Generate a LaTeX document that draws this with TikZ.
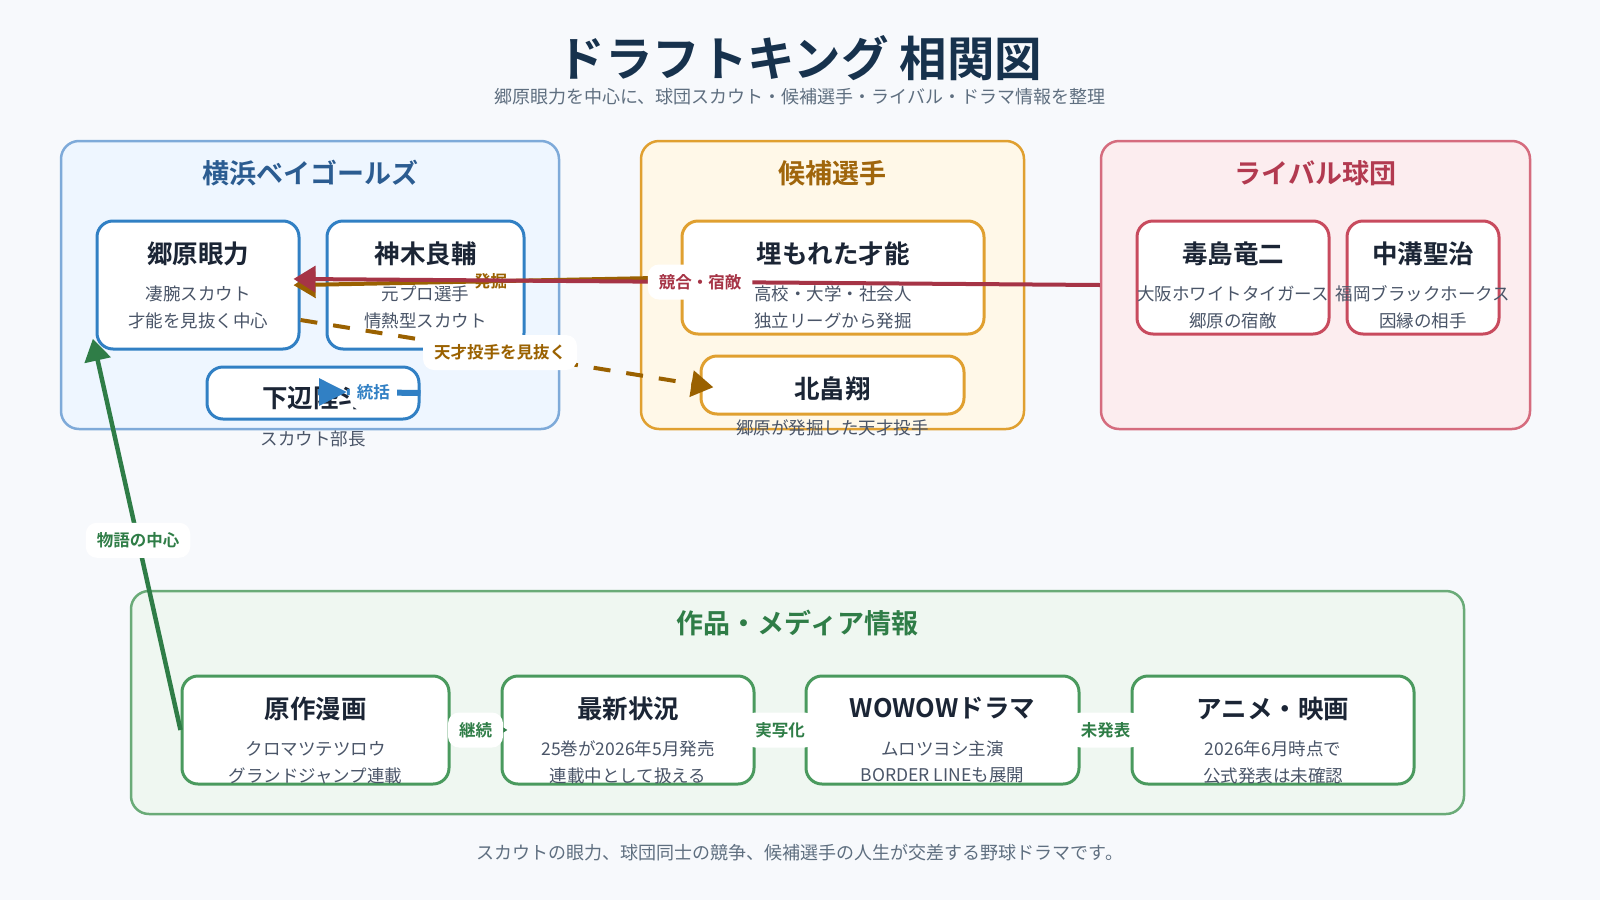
\documentclass[tikz,border=0pt]{standalone}
\usepackage{fontspec}
\setmainfont{Noto Sans CJK JP}[BoldFont={Noto Sans CJK JP Bold}]
\usepackage{tikz}
\usetikzlibrary{arrows.meta,positioning}
\definecolor{pagebg}{HTML}{F7F9FC}
\definecolor{headink}{HTML}{17324D}
\definecolor{noteink}{HTML}{5F6F80}
\definecolor{ink}{HTML}{1B2535}
\definecolor{subink}{HTML}{4A5568}
\definecolor{yokofill}{HTML}{EEF6FF}
\definecolor{yokoedge}{HTML}{7EAAD9}
\definecolor{yokotext}{HTML}{2B5C91}
\definecolor{yokocard}{HTML}{3180C4}
\definecolor{kouhofill}{HTML}{FFF8E8}
\definecolor{kouhoedge}{HTML}{E0A030}
\definecolor{kouhotext}{HTML}{A0660C}
\definecolor{rivalfill}{HTML}{FCEDEF}
\definecolor{rivaledge}{HTML}{D56C7E}
\definecolor{rivaltext}{HTML}{B23A50}
\definecolor{rivalcard}{HTML}{C84B5E}
\definecolor{rivalline}{HTML}{A63446}
\definecolor{mediafill}{HTML}{EFF7F1}
\definecolor{mediaedge}{HTML}{6AAB78}
\definecolor{mediatext}{HTML}{2F7D47}
\definecolor{mediacard}{HTML}{4A9A5E}
\definecolor{findcol}{HTML}{9A6100}
\tikzset{
  grp/.style       = {draw, line width=2.5pt, rounded corners=18pt, inner sep=0pt},
  grptitle/.style  = {font=\bfseries\fontsize{27}{30}\selectfont, inner sep=0pt, yshift=-2pt},
  card/.style      = {draw, fill=white, line width=3pt, rounded corners=16pt, inner sep=0pt},
  cardtitle/.style = {font=\bfseries\fontsize{25.5}{30}\selectfont, text=ink, inner sep=0pt, yshift=-2pt},
  cardline/.style  = {font=\fontsize{17.5}{20}\selectfont, text=subink, inner sep=0pt, yshift=-2pt},
  tag/.style       = {fill=white, rounded corners=11pt, inner xsep=11pt, inner ysep=0pt,
                      minimum height=35pt, font=\bfseries\fontsize{16.5}{18}\selectfont},
  link/.style      = {line width=4pt, -{Triangle[length=22pt,width=26pt]}, shorten >=-7pt},
}
\begin{document}
\begin{tikzpicture}[x=1pt,y=-1pt]
\fill[pagebg] (0,0) rectangle (1600,900);
\useasboundingbox (0,0) rectangle (1600,900);
\node[font=\bfseries\fontsize{47.5}{52}\selectfont, text=headink, inner sep=0pt] (title) at (800,58) {ドラフトキング 相関図};
\node[font=\fontsize{18}{22}\selectfont, text=noteink, inner sep=0pt] (subtitle) at (800,97) {郷原眼力を中心に、球団スカウト・候補選手・ライバル・ドラマ情報を整理};

\node[grp, draw=yokoedge, fill=yokofill, minimum width=498pt, minimum height=288pt] (yokohama) at (310,285) {};
\node[grptitle, text=yokotext] at ([yshift=-31pt]yokohama.north) {横浜ベイゴールズ};
\node[grp, draw=kouhoedge, fill=kouhofill, minimum width=383pt, minimum height=288pt] (kouho) at (832.5,285) {};
\node[grptitle, text=kouhotext] at ([yshift=-31pt]kouho.north) {候補選手};
\node[grp, draw=rivaledge, fill=rivalfill, minimum width=429pt, minimum height=288pt] (rival) at (1315.5,285) {};
\node[grptitle, text=rivaltext] at ([yshift=-31pt]rival.north) {ライバル球団};
\node[grp, draw=mediaedge, fill=mediafill, minimum width=1333pt, minimum height=223pt] (media) at (797.5,702.5) {};
\node[grptitle, text=mediatext] at ([yshift=-31pt]media.north) {作品・メディア情報};

\node[card, draw=yokocard, minimum width=202pt, minimum height=128pt] (goro) at (198,285) {};
\node[cardtitle] at ([yshift=-32pt]goro.north) {郷原眼力};
\node[cardline] at ([yshift=-72pt]goro.north) {凄腕スカウト};
\node[cardline] at ([yshift=-99pt]goro.north) {才能を見抜く中心};
\node[card, draw=yokocard, minimum width=197pt, minimum height=128pt] (kamiki) at (425.5,285) {};
\node[cardtitle] at ([yshift=-32pt]kamiki.north) {神木良輔};
\node[cardline] at ([yshift=-72pt]kamiki.north) {元プロ選手};
\node[cardline] at ([yshift=-99pt]kamiki.north) {情熱型スカウト};
\node[card, draw=yokocard, minimum width=212pt, minimum height=52pt] (shimobe) at (313,393) {};
\node[cardtitle] at ([yshift=-30pt]shimobe.north) {下辺陸斗};
\node[cardline] at ([yshift=-71pt]shimobe.north) {スカウト部長};

\node[card, draw=kouhoedge, minimum width=302pt, minimum height=113pt] (umoreta) at (833,277.5) {};
\node[cardtitle] at ([yshift=-32pt]umoreta.north) {埋もれた才能};
\node[cardline] at ([yshift=-72pt]umoreta.north) {高校・大学・社会人};
\node[cardline] at ([yshift=-99pt]umoreta.north) {独立リーグから発掘};
\node[card, draw=kouhoedge, minimum width=263pt, minimum height=58pt] (kitabatake) at (832.5,385) {};
\node[cardtitle] at ([yshift=-32pt]kitabatake.north) {北畠翔};
\node[cardline] at ([yshift=-71pt]kitabatake.north) {郷原が発掘した天才投手};

\node[card, draw=rivalcard, minimum width=192pt, minimum height=113pt] (busujima) at (1233,277.5) {};
\node[cardtitle] at ([yshift=-32pt]busujima.north) {毒島竜二};
\node[cardline] at ([yshift=-72pt]busujima.north) {大阪ホワイトタイガース};
\node[cardline] at ([yshift=-99pt]busujima.north) {郷原の宿敵};
\node[card, draw=rivalcard, minimum width=152pt, minimum height=113pt] (nakamizo) at (1423,277.5) {};
\node[cardtitle] at ([yshift=-32pt]nakamizo.north) {中溝聖治};
\node[cardline] at ([yshift=-72pt]nakamizo.north) {福岡ブラックホークス};
\node[cardline] at ([yshift=-99pt]nakamizo.north) {因縁の相手};

\node[card, draw=mediacard, minimum width=267pt, minimum height=108pt] (gensaku) at (315.5,730) {};
\node[cardtitle] at ([yshift=-32pt]gensaku.north) {原作漫画};
\node[cardline] at ([yshift=-72pt]gensaku.north) {クロマツテツロウ};
\node[cardline] at ([yshift=-99pt]gensaku.north) {グランドジャンプ連載};
\node[card, draw=mediacard, minimum width=252pt, minimum height=108pt] (saishin) at (628,730) {};
\node[cardtitle] at ([yshift=-32pt]saishin.north) {最新状況};
\node[cardline] at ([yshift=-72pt]saishin.north) {25巻が2026年5月発売};
\node[cardline] at ([yshift=-99pt]saishin.north) {連載中として扱える};
\node[card, draw=mediacard, minimum width=273pt, minimum height=108pt] (wowow) at (942.5,730) {};
\node[cardtitle] at ([yshift=-32pt]wowow.north) {WOWOWドラマ};
\node[cardline] at ([yshift=-72pt]wowow.north) {ムロツヨシ主演};
\node[cardline] at ([yshift=-99pt]wowow.north) {BORDER LINEも展開};
\node[card, draw=mediacard, minimum width=282pt, minimum height=108pt] (anime) at (1273,730) {};
\node[cardtitle] at ([yshift=-32pt]anime.north) {アニメ・映画};
\node[cardline] at ([yshift=-72pt]anime.north) {2026年6月時点で};
\node[cardline] at ([yshift=-99pt]anime.north) {公式発表は未確認};

\draw[link, draw=findcol] (umoreta.west) -- node[tag, fill=none, text=findcol] {発掘} (goro.east);
\draw[link, draw=rivalline] (rival.west) -- node[tag, text=rivalline] {競合・宿敵} ([yshift=6pt]goro.east);
\draw[link, draw=findcol, dash pattern=on 17pt off 16pt, shorten >=-14pt] ([yshift=-35pt]goro.east) -- node[tag, text=findcol] {天才投手を見抜く} (kitabatake.west);
\coordinate (tokatsu) at (347,392);
\draw[line width=6pt, draw=yokocard] (shimobe.east) -- node[tag, inner xsep=7pt, text=yokocard, pos=0.64] {統括} (tokatsu);
\draw[line width=6pt, draw=yokocard, -{Triangle[length=28pt,width=26pt]}] ([xshift=-29pt]tokatsu) -- (tokatsu);
\draw[link, line width=4.5pt, draw=mediatext, shorten >=-12pt] (gensaku.west) -- node[tag, text=mediatext] {物語の中心} (goro.south west);
\draw[link, draw=mediatext] (gensaku.east) -- node[tag, text=mediatext] {継続} (saishin.west);
\draw[link, draw=mediatext] (saishin.east) -- node[tag, text=mediatext] {実写化} (wowow.west);
\draw[link, draw=mediatext] (wowow.east) -- node[tag, text=mediatext] {未発表} (anime.west);

\node[font=\fontsize{18}{20}\selectfont, text=noteink, inner sep=0pt] (caption) at (800,853) {スカウトの眼力、球団同士の競争、候補選手の人生が交差する野球ドラマです。};
\end{tikzpicture}
\end{document}
